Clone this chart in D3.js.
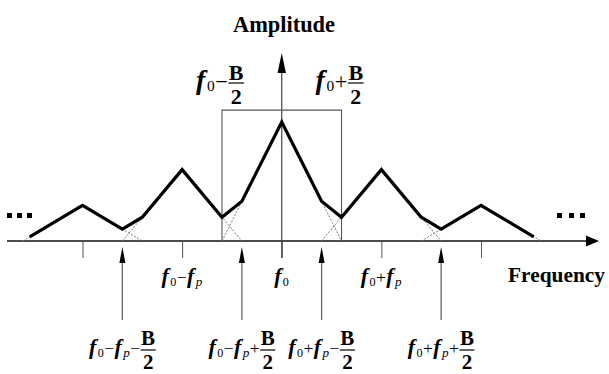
<!DOCTYPE html>
<html>
<head>
<meta charset="utf-8">
<script src="https://cdn.jsdelivr.net/npm/d3@7"></script>
<style>
body { margin: 0; background: #fff; }
</style>
</head>
<body>
<svg id="chart" width="609" height="374"></svg>
<script>
// frequencies are in units of fp, centred on f0
var peakFreqs = [-2, -1, 0, 1, 2];
var peakAmps = [0.3, 0.6, 1.0, 0.6, 0.3];
var halfBand = 0.6;          // B/2
var bandAmp = 1.1;           // height of the pass band box
var tickFreqs = [-2, -1, 0, 1, 2];
var tickLabels = [null, "f0-fp", "f0", "f0+fp", null];
var bandLabels = ["f0-B/2", "f0+B/2"];
var arrowFreqs = [-1.6, -0.4, 0.4, 1.6];
var arrowLabels = ["f0-fp-B/2", "f0-fp+B/2", "f0+fp-B/2", "f0+fp+B/2"];

var FONT = "Liberation Serif";

var svg = d3.select("#chart");
var x = d3.scaleLinear().domain([-2, 2]).range([82.5, 481]);
var y = d3.scaleLinear().domain([0, 1]).range([241, 122]);
var base = y(0);

function tri(f, c, a) {
	var v = a * (1 - Math.abs(f - c) / halfBand);
	return v > 0 ? v : 0;
}
function total(f) {
	var s = 0;
	peakFreqs.forEach(function(c, i) { s += tri(f, c, peakAmps[i]); });
	return s;
}

// axis line + arrow
svg.append("line")
	.attr("x1", 7).attr("x2", 590)
	.attr("y1", base).attr("y2", base)
	.attr("stroke", "#111").attr("stroke-width", 1.6);
svg.append("path")
	.attr("d", "M599," + base + "L586," + (base - 5.5) + "L586," + (base + 5.5) + "Z")
	.attr("fill", "#000");

// ticks (no text, the labels are drawn by hand below)
var axis = d3.axisBottom(x).tickValues(tickFreqs).tickSize(17).tickFormat("");
var ag = svg.append("g").attr("transform", "translate(0," + base + ")").call(axis);
ag.select(".domain").remove();
ag.selectAll(".tick line").attr("stroke", "#555").attr("stroke-width", 1);

// vertical axis
svg.append("line")
	.attr("x1", x(0)).attr("x2", x(0))
	.attr("y1", base + 17).attr("y2", 66)
	.attr("stroke", "#444").attr("stroke-width", 1.2);
svg.append("path")
	.attr("d", "M" + x(0) + ",53L" + (x(0) - 4.2) + ",73L" + (x(0) + 4.2) + ",73Z")
	.attr("fill", "#000");

// pass band box
svg.append("path")
	.attr("d", "M" + x(-halfBand) + "," + base + "V" + y(bandAmp) + "H" + x(halfBand) + "V" + base)
	.attr("fill", "none").attr("stroke", "#555").attr("stroke-width", 1.1);

// individual triangles, dashed
svg.selectAll(".tri").data(peakFreqs).enter().append("path")
	.attr("class", "tri")
	.attr("d", function(c, i) {
		return d3.line()([[x(c - halfBand), base], [x(c), y(peakAmps[i])], [x(c + halfBand), base]]);
	})
	.attr("fill", "none").attr("stroke", "#777").attr("stroke-width", 1)
	.attr("stroke-dasharray", "2,1.5");

// summed spectrum
var bp = [];
peakFreqs.forEach(function(c) { bp.push(c - halfBand, c, c + halfBand); });
bp = Array.from(new Set(bp.map(function(v) { return +v.toFixed(4); }))).sort(d3.ascending);
bp[0] = bp[0] + 0.07;
bp[bp.length - 1] = bp[bp.length - 1] - 0.07;
svg.append("path")
	.datum(bp)
	.attr("d", d3.line().x(function(f) { return x(f); }).y(function(f) { return y(total(f)); }))
	.attr("fill", "none").attr("stroke", "#000").attr("stroke-width", 3.2)
	.attr("stroke-linejoin", "miter");

// small arrows under the axis
var ar = svg.selectAll(".arr").data(arrowFreqs).enter().append("g").attr("class", "arr");
ar.append("line")
	.attr("x1", function(f) { return x(f); }).attr("x2", function(f) { return x(f); })
	.attr("y1", 320).attr("y2", 258)
	.attr("stroke", "#666").attr("stroke-width", 1.3);
ar.append("path")
	.attr("d", function(f) {
		var cx = x(f);
		return "M" + cx + ",247L" + (cx - 3) + ",263L" + (cx + 3) + ",263Z";
	})
	.attr("fill", "#000");

// ellipsis dots
[[7, 17, 27], [557, 569, 580]].forEach(function(xs) {
	svg.selectAll(null).data(xs).enter().append("rect")
		.attr("x", function(d) { return d; }).attr("y", 213)
		.attr("width", 5).attr("height", 5).attr("fill", "#000");
});

function txt(parent, str, size, weight, italic) {
	return parent.append("text")
		.attr("font-family", FONT)
		.attr("font-size", size)
		.attr("font-weight", weight)
		.attr("font-style", italic ? "italic" : "normal")
		.text(str);
}

// axis titles
txt(svg, "Amplitude", 24, "bold", false)
	.attr("x", 233).attr("y", 32)
	.attr("textLength", 102).attr("lengthAdjust", "spacingAndGlyphs");
txt(svg, "Frequency", 22, "bold", false)
	.attr("x", 508).attr("y", 282)
	.attr("textLength", 97).attr("lengthAdjust", "spacingAndGlyphs");

// math labels like f0-fp+B/2, centred at cx with the fraction bar at height ay
function mathLabel(expr, cx, ay, s, fs, gapUp, gapDown) {
	var g = svg.append("g");
	var b = ay + 0.2 * s;
	var pos = 0;
	var i = 0;
	function put(str, size, weight, italic, dy) {
		var t = txt(g, str, size, weight, italic).attr("x", pos).attr("y", b + dy);
		pos += t.node().getComputedTextLength();
		return t;
	}
	while (i < expr.length) {
		var ch = expr[i];
		if (ch == "f") {
			put("f", s, "bold", true, 0);
			pos += 0.06 * s;
			var sub = expr[i + 1];
			if (sub == "0") put("0", 0.55 * s, "normal", false, 0.1 * s);
			else put("p", 0.6 * s, "normal", true, 0.14 * s);
			pos += 0.02 * s;
			i += 2;
		} else if (ch == "+" || ch == "-") {
			put(ch == "-" ? "\u2212" : "+", 0.8 * s, "normal", false, 0);
			pos += 0.02 * s;
			i += 1;
		} else if (expr.substr(i, 3) == "B/2") {
			var tb = txt(g, "B", fs, "bold", false).attr("y", ay - gapUp).attr("text-anchor", "middle");
			var t2 = txt(g, "2", fs, "bold", false).attr("y", ay + gapDown + 0.68 * fs).attr("text-anchor", "middle");
			var w = Math.max(tb.node().getComputedTextLength(), t2.node().getComputedTextLength()) + 1;
			tb.attr("x", pos + w / 2);
			t2.attr("x", pos + w / 2);
			g.append("line").attr("x1", pos).attr("x2", pos + w)
				.attr("y1", ay).attr("y2", ay).attr("stroke", "#000").attr("stroke-width", 1.2);
			pos += w;
			i += 3;
		} else {
			i += 1;
		}
	}
	g.attr("transform", "translate(" + (cx - pos / 2) + ",0)");
	return g;
}

tickFreqs.forEach(function(f, i) {
	if (tickLabels[i]) mathLabel(tickLabels[i], x(f), 279, 22, 20, 3, 3);
});
bandLabels.forEach(function(lab, i) {
	mathLabel(lab, x(i == 0 ? -halfBand : halfBand) - 2, 83, 28, 22, 3, 6.5);
});
arrowFreqs.forEach(function(f, i) {
	mathLabel(arrowLabels[i], x(f), 350, 22, 21, 5, 5);
});
</script>
</body>
</html>
